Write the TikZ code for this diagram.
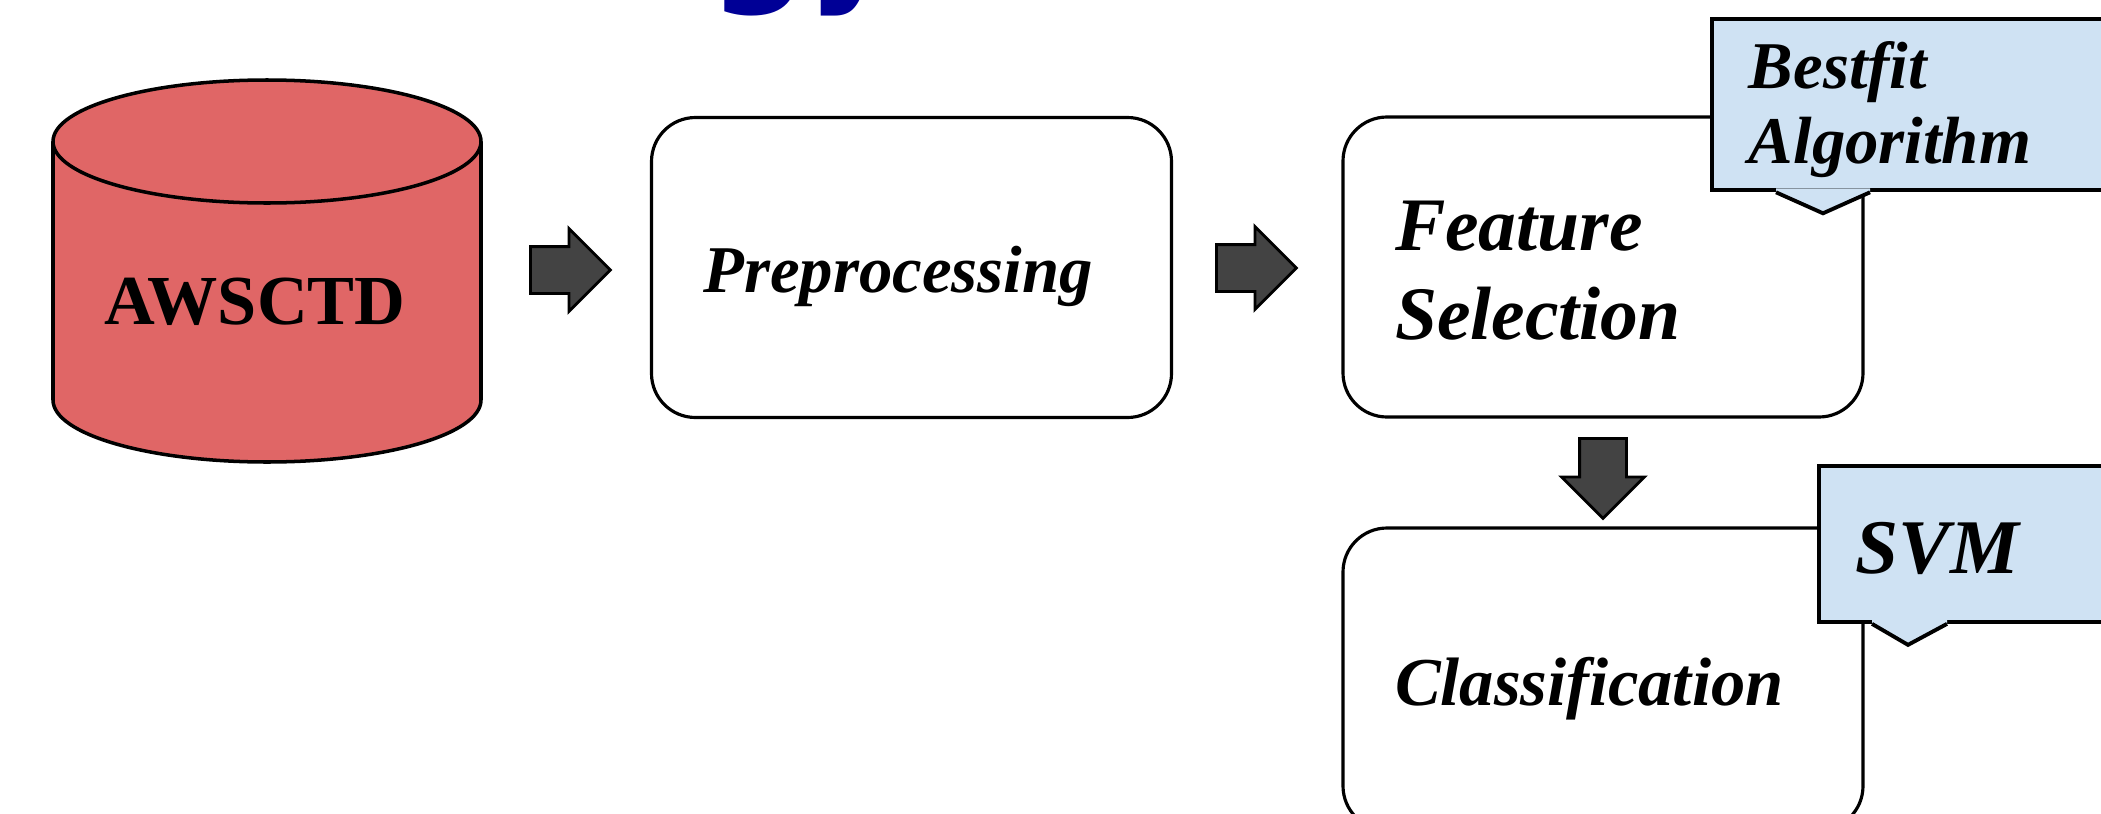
\documentclass[tikz,border=0pt]{standalone}
\usepackage{fontspec}
\setmainfont{Liberation Serif}
\newfontfamily\titlefont{DejaVu Sans}
\usepackage{tikz}
\usetikzlibrary{shapes.arrows}

\definecolor{dbred}{RGB}{224,102,102}
\definecolor{noteblue}{RGB}{207,226,243}
\definecolor{arrowgray}{RGB}{67,67,67}
\definecolor{titleblue}{RGB}{0,0,150}

\begin{document}
\begin{tikzpicture}[
    box/.style={draw=black, line width=0.9pt, rounded corners=0.44cm, minimum width=5.2cm, minimum height=3cm, inner xsep=0.52cm, text width=4.16cm, align=left, font=\fontsize{19.5}{25.5}\selectfont\bfseries\itshape},
    blockarrow/.style={single arrow, draw=black, line width=0.8pt, fill=arrowgray, inner sep=0.22cm, minimum height=0.8cm, single arrow head extend=0.18cm, anchor=tail},
    note/.style={draw=black, line width=1.1pt, fill=noteblue, anchor=north west, minimum width=4.6cm, inner xsep=0.37cm, text width=3.86cm, align=left, font=\fontsize{19}{21.3}\selectfont\bfseries\itshape}]
    \useasboundingbox (0,0) rectangle (21.01,8.13);
    \clip (0,0) rectangle (21.01,8.13);

    % title (cut off by the top edge)
    \node[font=\titlefont\bfseries\fontsize{39}{40}\selectfont, text=titleblue, anchor=base east, inner sep=0] (title) at (8.98,8.27) {Methodology};

    % database
    \draw[line width=1pt, fill=dbred] (0.53,4.13) -- (0.53,6.715) arc[start angle=180, end angle=0, x radius=2.14cm, y radius=0.615cm] -- (4.81,4.13) arc[start angle=0, end angle=-180, x radius=2.14cm, y radius=0.62cm] -- cycle;
    \draw[line width=1pt] (0.53,6.715) arc[start angle=180, end angle=360, x radius=2.14cm, y radius=0.615cm];
    \node[font=\fontsize{20}{24}\selectfont\bfseries] (db) at (2.55,5.11) {AWSCTD};

    % steps
    \node[box, font=\fontsize{19}{24}\selectfont\bfseries\itshape, text height=0.5cm, text depth=0.01cm] (pre) at (9.115,5.455) {Preprocessing};
    \node[box, font=\fontsize{21.5}{25.5}\selectfont\bfseries\itshape, text height=0.61cm, text depth=0.95cm] (fs) at (16.03,5.46) {Feature\\Selection};
    \node[box, minimum height=3.02cm, text height=0.53cm, text depth=0.01cm] (cls) at (16.03,1.34) {Classification};

    % arrows
    \node[blockarrow] (a1) at (5.29,5.43) {};
    \node[blockarrow] (a2) at (12.15,5.45) {};
    \node[blockarrow, rotate=-90] (a3) at (16.03,3.76) {};

    % notes
    \node[note, minimum height=1.58cm, text height=0.58cm, text depth=0.9cm] (bf) at (17.10,7.96) {Bestfit\\Algorithm};
    \fill[noteblue] ([xshift=0.66cm,yshift=0.04cm]bf.south west) -- ([xshift=0.66cm]bf.south west) -- ([xshift=1.13cm,yshift=-0.21cm]bf.south west) -- ([xshift=1.60cm]bf.south west) -- ([xshift=1.60cm,yshift=0.04cm]bf.south west) -- cycle;
    \draw[line width=1.1pt] ([xshift=0.66cm]bf.south west) -- ([xshift=1.13cm,yshift=-0.21cm]bf.south west) -- ([xshift=1.60cm]bf.south west);

    \node[note, minimum height=1.56cm, text height=0.62cm, text depth=0.02cm, font=\fontsize{22}{24}\selectfont\bfseries\itshape] (svm) at (18.17,3.49) {SVM};
    \fill[noteblue] ([xshift=0.55cm,yshift=0.04cm]svm.south west) -- ([xshift=0.55cm]svm.south west) -- ([xshift=0.91cm,yshift=-0.21cm]svm.south west) -- ([xshift=1.30cm]svm.south west) -- ([xshift=1.30cm,yshift=0.04cm]svm.south west) -- cycle;
    \draw[line width=1.1pt] ([xshift=0.55cm]svm.south west) -- ([xshift=0.91cm,yshift=-0.21cm]svm.south west) -- ([xshift=1.30cm]svm.south west);
\end{tikzpicture}
\end{document}
